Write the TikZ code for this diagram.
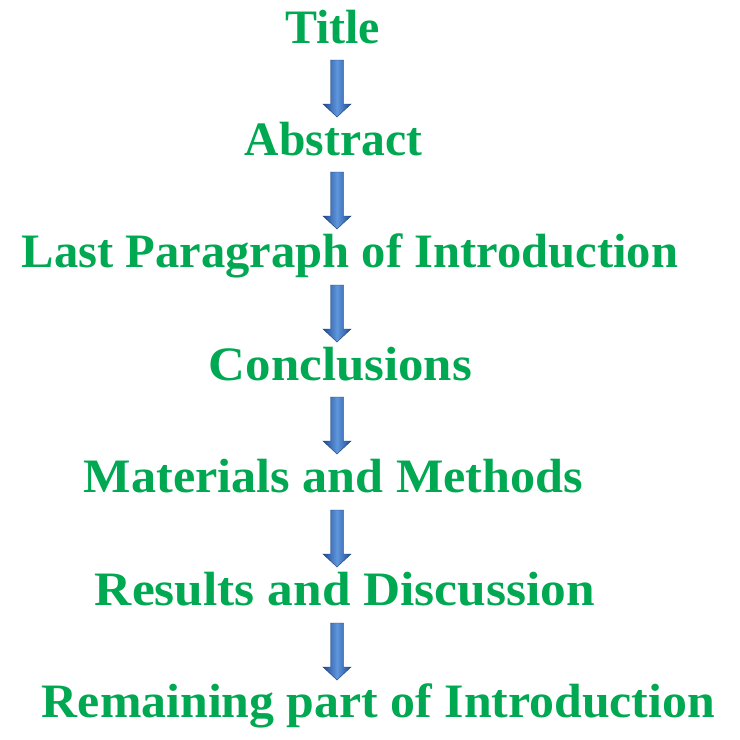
\documentclass[tikz,border=0pt]{standalone}
\usepackage{fontspec}
\setmainfont{Liberation Serif}
\usetikzlibrary{calc}
\definecolor{txtgreen}{RGB}{0,168,82}
\definecolor{arrdark}{RGB}{30,75,150}
\definecolor{arrlight}{RGB}{95,150,220}
\tikzset{
  txtlabel/.style={anchor=base, inner sep=0pt, text=txtgreen, font=\fontsize{48}{52}\selectfont\bfseries},
  blockarrow/.style={left color=arrdark, right color=arrdark, middle color=arrlight, draw=arrdark!80!black, line width=0.4pt}
}
\newcommand\fitw[2]{\resizebox{#1pt}{\height}{#2}}
\newcommand\blockarr[2]{%
  \path[blockarrow] let \p1=(#1), \p2=(#2) in
    (\x1-6.5pt,\y1) -- (\x1+6.5pt,\y1) -- (\x1+6.5pt,\y2+13pt) -- (\x1+14pt,\y2+13pt)
    -- (\x1,\y2) -- (\x1-14pt,\y2+13pt) -- (\x1-6.5pt,\y2+13pt) -- cycle;}
\begin{document}
\begin{tikzpicture}[x=1pt,y=1pt]
\useasboundingbox (0,0) rectangle (740,-740);
\fill[white] (0,0) rectangle (740,-740);
\node[txtlabel] (t0) at (332.5,-43) {\fitw{95}{Title}};
\node[txtlabel] (t1) at (333.5,-155.4) {\fitw{177}{Abstract}};
\node[txtlabel] (t2) at (350,-267.8) {\fitw{656}{Last Paragraph of Introduction}};
\node[txtlabel] (t3) at (340.5,-380.2) {\fitw{263}{Conclusions}};
\node[txtlabel] (t4) at (333.5,-492.6) {\fitw{499}{Materials and Methods}};
\node[txtlabel] (t5) at (345,-605) {\fitw{500}{Results and Discussion}};
\node[txtlabel] (t6) at (378.5,-717.4) {\fitw{673}{Remaining part of Introduction}};
\coordinate (s0) at (337,-60);  \coordinate (e0) at (337,-117);
\coordinate (s1) at (337,-172); \coordinate (e1) at (337,-229);
\coordinate (s2) at (337,-285); \coordinate (e2) at (337,-342);
\coordinate (s3) at (337,-397); \coordinate (e3) at (337,-454);
\coordinate (s4) at (337,-510); \coordinate (e4) at (337,-567);
\coordinate (s5) at (337,-623); \coordinate (e5) at (337,-680);
\foreach \i in {0,...,5}{\blockarr{s\i}{e\i}}
\end{tikzpicture}
\end{document}
